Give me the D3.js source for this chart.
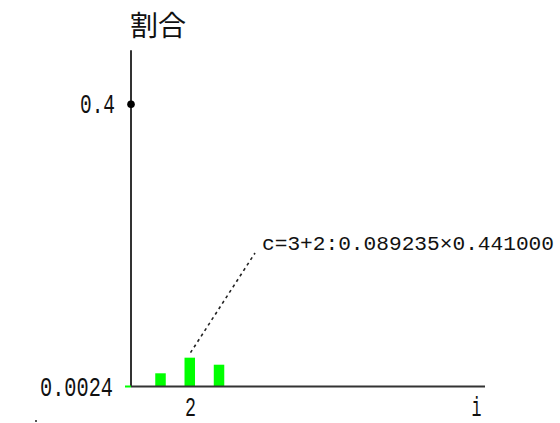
<!DOCTYPE html>
<html><head><meta charset="utf-8">
<script src="https://cdn.jsdelivr.net/npm/d3@7"></script>
<style>html,body{margin:0;padding:0;background:#fff;}svg{display:block;}</style>
</head><body>
<svg id="chart" width="560" height="423"></svg>
<script>
// Data
const categories = [1, 2, 3];
const values = [0.021, 0.043, 0.0331];
const yTickValues = [0.0024, 0.4];
const yTickLabels = ["0.0024", "0.4"];
const xTickValues = [2];
const xTickLabels = ["2"];
const yAxisTitle = "割合";
const xAxisTitle = "i";
const annotationText = "c=3+2:0.089235×0.441000";
const annotationIndex = 1;

const svg = d3.select("#chart");
const monoFont = "'Liberation Mono', 'DejaVu Sans Mono', monospace";

const x = d3.scaleLinear().domain([0, 12.1]).range([131, 485]);
const y = d3.scaleLinear().domain([0.0024, 0.4]).range([386.5, 104.3]);
const yTop = 0.476;

const axisColor = "#333";

// Bars
svg.append("g").selectAll("rect").data(categories).join("rect")
  .attr("x", d => x(d) - 5)
  .attr("width", 10.5)
  .attr("y", (d, i) => y(values[i]))
  .attr("height", (d, i) => y(0.0024) - y(values[i]))
  .attr("fill", "#00ff00");

// Axes lines (drawn via scales)
svg.append("line")
  .attr("x1", x(0)).attr("x2", x(0))
  .attr("y1", y(0.0024)).attr("y2", y(yTop))
  .attr("stroke", axisColor).attr("stroke-width", 2);
svg.append("line")
  .attr("x1", x(0)).attr("x2", x.range()[1])
  .attr("y1", y(0.0024)).attr("y2", y(0.0024))
  .attr("stroke", axisColor).attr("stroke-width", 2);

// Green tick at baseline
svg.append("line")
  .attr("x1", x(0) - 6).attr("x2", x(0))
  .attr("y1", y(0.0024)).attr("y2", y(0.0024))
  .attr("stroke", "#00ff00").attr("stroke-width", 2);

// Dot at 0.4
svg.append("circle")
  .attr("cx", x(0)).attr("cy", y(0.4)).attr("r", 3.8).attr("fill", "#000");

// Y tick labels
const yLabelRight = [113, 115];
const yLabelWidths = [73, 35];
svg.append("g").selectAll("text").data(yTickValues).join("text")
  .attr("x", (d, i) => yLabelRight[i] - yLabelWidths[i])
  .attr("y", d => y(d) + 9)
  .attr("font-family", monoFont).attr("font-size", 27)
  .attr("textLength", (d, i) => yLabelWidths[i])
  .attr("lengthAdjust", "spacingAndGlyphs")
  .attr("fill", "#111")
  .text((d, i) => yTickLabels[i]);

// X tick labels
svg.append("g").selectAll("text").data(xTickValues).join("text")
  .attr("x", d => x(d) - 4.5)
  .attr("y", 416)
  .attr("font-family", monoFont).attr("font-size", 27)
  .attr("textLength", 11)
  .attr("lengthAdjust", "spacingAndGlyphs")
  .attr("fill", "#111")
  .text((d, i) => xTickLabels[i]);

// Axis titles
svg.append("text")
  .attr("x", 471.5).attr("y", 416)
  .attr("font-family", monoFont).attr("font-size", 27)
  .attr("textLength", 10)
  .attr("lengthAdjust", "spacingAndGlyphs")
  .attr("fill", "#111")
  .text(xAxisTitle);

svg.append("text")
  .attr("x", x(0) - 1).attr("y", 36)
  .attr("font-family", "'Noto Sans CJK JP', sans-serif").attr("font-size", 28)
  .attr("fill", "#111")
  .text(yAxisTitle);

// Annotation leader (dashed)
const ax = x(categories[annotationIndex]) + 1;
const ay = y(values[annotationIndex]) - 5;
svg.append("line")
  .attr("x1", ax).attr("y1", ay)
  .attr("x2", 255).attr("y2", 253)
  .attr("stroke", "#222").attr("stroke-width", 1.6)
  .attr("stroke-dasharray", "3,3.5");

svg.append("text")
  .attr("x", 262).attr("y", 250)
  .attr("font-family", monoFont).attr("font-size", 20.5)
  .attr("textLength", 292)
  .attr("lengthAdjust", "spacingAndGlyphs")
  .attr("fill", "#111")
  .text(annotationText);

// stray dot bottom-left
svg.append("rect").attr("x", 35).attr("y", 420).attr("width", 2).attr("height", 2).attr("fill", "#555");
</script>
</body></html>
